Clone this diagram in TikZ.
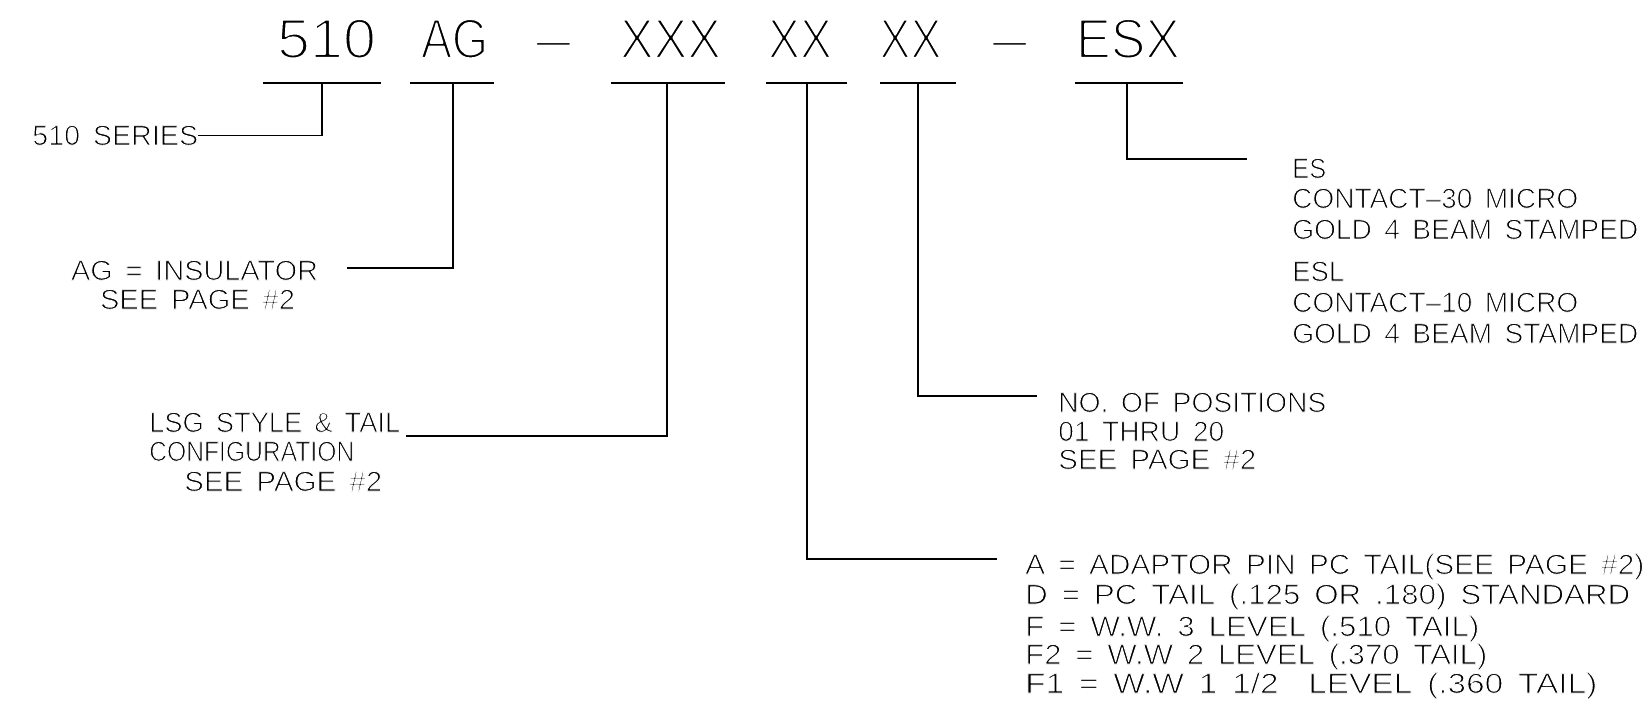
\documentclass[tikz,border=0pt]{standalone}
\usepackage{fontspec}
\usepackage{graphicx}
\usetikzlibrary{calc}
\newfontfamily\cadf[WordSpace=1.6]{Liberation Sans}
\newcommand\thinstroke[1]{\special{pdf:literal direct 2 Tr 1 1 1 RG #1 w 1 j}}
\newcommand\cadsmall{\cadf\fontsize{28}{30}\selectfont\thinstroke{0.9}}
\newcommand\cadbig{\cadf\fontsize{56}{60}\selectfont\thinstroke{2.2}}
\newcommand\fitw[2]{\resizebox{#1pt}{\height}{#2}}
\tikzset{
  lbl/.style={anchor=base west, inner sep=0pt, font=\cadsmall},
  lblc/.style={anchor=base, inner sep=0pt, font=\cadsmall},
  big/.style={anchor=base, inner sep=0pt, font=\cadbig},
  ln/.style={line width=1.6pt, line cap=rect, line join=miter},
}
\begin{document}
\begin{tikzpicture}[x=1pt,y=-1pt]
\useasboundingbox (0,0) rectangle (1648,703);
% part number
\node[big] (t510) at (326.5,58) {\fitw{99}{510}};
\node[big] (tag)  at (454.5,58) {\fitw{67}{AG}};
\node[big] (td1)  at (553.5,58) {\fitw{35}{–}};
\node[big] (txxx) at (670.5,58) {\fitw{101}{XXX}};
\node[big] (txx1) at (800,58) {\fitw{64}{XX}};
\node[big] (txx2) at (910.5,58) {\fitw{62}{XX}};
\node[big] (td2)  at (1009.5,58) {\fitw{35}{–}};
\node[big] (tesx) at (1128,58) {\fitw{104}{ESX}};
% underline coordinates
\coordinate (l1) at (264,83);  \coordinate (r1) at (380,83);  \coordinate (u1) at (322,83);
\coordinate (l2) at (411,83);  \coordinate (r2) at (493,83);  \coordinate (u2) at (453,83);
\coordinate (l3) at (612,83);  \coordinate (r3) at (724,83);  \coordinate (u3) at (667,83);
\coordinate (l4) at (767,83);  \coordinate (r4) at (846,83);  \coordinate (u4) at (807,83);
\coordinate (l5) at (881,83);  \coordinate (r5) at (955,83);  \coordinate (u5) at (918,83);
\coordinate (l6) at (1076,83); \coordinate (r6) at (1182,83); \coordinate (u6) at (1127,83);
\foreach \i in {1,...,6} {\draw[ln] (l\i) -- (r\i);}
% labels
\node[lbl] (ser) at (32,145) {\fitw{166}{510 SERIES}};
\node[lblc] (ag1) at (194.5,280) {\fitw{247}{AG = INSULATOR}};
\node[lblc] (ag2) at (197.5,309) {\fitw{195}{SEE PAGE \#2}};
\node[lbl] (lsg1) at (149,432) {\fitw{251}{LSG STYLE \& TAIL}};
\node[lbl] (lsg2) at (149,461) {\fitw{205}{CONFIGURATION}};
\node[lbl] (lsg3) at (184,491) {\fitw{198}{SEE PAGE \#2}};
\node[lbl] (no1) at (1058,412) {\fitw{268}{NO. OF POSITIONS}};
\node[lbl] (no2) at (1058,441) {\fitw{166}{01 THRU 20}};
\node[lbl] (no3) at (1058,469) {\fitw{198}{SEE PAGE \#2}};
\node[lbl] (a1) at (1025,574) {\fitw{619}{A = ADAPTOR PIN PC TAIL(SEE PAGE \#2)}};
\node[lbl] (a2) at (1025,604) {\fitw{605}{D = PC TAIL (.125 OR .180) STANDARD}};
\node[lbl] (a3) at (1025,636) {\fitw{454}{F = W.W. 3 LEVEL (.510 TAIL)}};
\node[lbl] (a4) at (1025,664) {\fitw{462}{F2 = W.W 2 LEVEL (.370 TAIL)}};
\node[lbl] (a5) at (1025,693) {\fitw{572}{F1 = W.W 1 1/2 \ LEVEL (.360 TAIL)}};
\node[lbl] (es1) at (1292,178) {\fitw{34}{ES}};
\node[lbl] (es2) at (1292,208) {\fitw{286}{CONTACT–30 MICRO}};
\node[lbl] (es3) at (1292,239) {\fitw{346}{GOLD 4 BEAM STAMPED}};
\node[lbl] (es4) at (1292,281) {\fitw{52}{ESL}};
\node[lbl] (es5) at (1292,312) {\fitw{286}{CONTACT–10 MICRO}};
\node[lbl] (es6) at (1292,343) {\fitw{346}{GOLD 4 BEAM STAMPED}};
% connectors
\draw[ln] (u1) |- (ser.east);
\draw[ln] (u2) |- ($(ag1.base east)+(30,-12)$);
\draw[ln] (u3) |- ($(lsg1.base east)+(6,4)$);
\draw[ln] (u4) |- ($(a1.base west)+(-29,-15)$);
\draw[ln] (u5) |- ($(no1.base west)+(-22,-16)$);
\draw[ln] (u6) |- ($(es1.base west)+(-46,-19)$);
\end{tikzpicture}
\end{document}
